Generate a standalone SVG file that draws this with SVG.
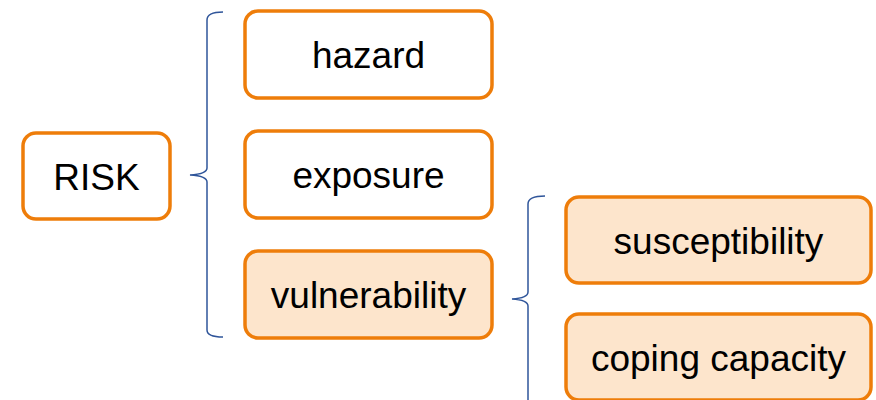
<svg xmlns="http://www.w3.org/2000/svg" width="876" height="400" viewBox="0 0 876 400">
<style>
.box{fill:#ffffff;stroke:#EE7D0A;stroke-width:3.5}
.hl{fill:#FDE5CC}
.t{font-family:"Liberation Sans",Arial,sans-serif;font-size:37px;fill:#000;text-anchor:middle}
.br{fill:none;stroke:#2F559A;stroke-width:1.5}
</style>
<rect width="876" height="400" fill="#fff"/>
<g id="connectors">
<path class="br" d="M223,12 Q207,12 207,20 L207,168 Q207,174 190,175 Q207,176 207,182 L207,330 Q207,337 223,337"/>
<path class="br" d="M545,196 Q528,196 528,204 L528,292 Q528,298 512,299 Q528,300 528,306 L528,402"/>
</g>
<g id="risk"><rect class="box" x="23" y="133" width="147" height="86" rx="13"/><text class="t" x="96.5" y="190">RISK</text></g>
<g id="hazard"><rect class="box" x="245" y="11" width="247" height="87" rx="13"/><text class="t" x="368.5" y="68">hazard</text></g>
<g id="exposure"><rect class="box" x="245" y="131" width="247" height="87" rx="13"/><text class="t" x="368.5" y="188">exposure</text></g>
<g id="vulnerability"><rect class="box hl" x="245" y="251" width="247" height="87" rx="13"/><text class="t" x="368.5" y="308">vulnerability</text></g>
<g id="susceptibility"><rect class="box hl" x="566" y="197" width="305" height="86" rx="13"/><text class="t" x="718.5" y="254">susceptibility</text></g>
<g id="coping"><rect class="box hl" x="566" y="314" width="305" height="86" rx="13"/><text class="t" x="718.5" y="371">coping capacity</text></g>
</svg>
